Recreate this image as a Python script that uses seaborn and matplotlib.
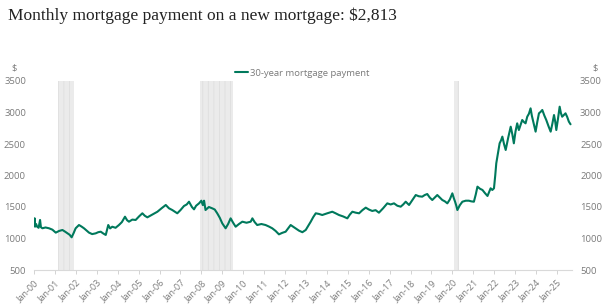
import matplotlib
matplotlib.use("Agg")
import matplotlib.pyplot as plt
import seaborn as sns
import pandas as pd

# ---- data ----
years = [2000.00, 2000.03, 2000.05, 2000.10, 2000.15, 2000.22, 2000.29, 2000.33, 2000.40, 2000.55,
         2000.72, 2000.88, 2001.04, 2001.20, 2001.36, 2001.48, 2001.60, 2001.70, 2001.80, 2001.90,
         2001.99, 2002.15, 2002.27, 2002.39, 2002.50, 2002.63, 2002.78, 2002.95, 2003.07, 2003.19,
         2003.31, 2003.43, 2003.55, 2003.64, 2003.74, 2003.90, 2004.06, 2004.20, 2004.35, 2004.45,
         2004.54, 2004.70, 2004.86, 2005.02, 2005.18, 2005.30, 2005.42, 2005.66, 2005.90, 2006.10,
         2006.30, 2006.45, 2006.61, 2006.85, 2007.00, 2007.17, 2007.30, 2007.41, 2007.55, 2007.65,
         2007.75, 2007.89, 2008.00, 2008.07, 2008.13, 2008.20, 2008.36, 2008.52, 2008.64, 2008.76,
         2008.88, 2009.00, 2009.16, 2009.28, 2009.40, 2009.52, 2009.64, 2009.80, 2009.96, 2010.16,
         2010.36, 2010.44, 2010.55, 2010.67, 2010.87, 2011.07, 2011.23, 2011.39, 2011.55, 2011.71,
         2011.87, 2012.03, 2012.15, 2012.27, 2012.47, 2012.67, 2012.83, 2012.99, 2013.11, 2013.23,
         2013.35, 2013.47, 2013.62, 2013.78, 2014.02, 2014.26, 2014.42, 2014.58, 2014.78, 2014.98,
         2015.10, 2015.22, 2015.38, 2015.54, 2015.70, 2015.86, 2016.01, 2016.17, 2016.33, 2016.49,
         2016.69, 2016.89, 2017.05, 2017.21, 2017.37, 2017.53, 2017.65, 2017.77, 2017.93, 2018.09,
         2018.25, 2018.40, 2018.56, 2018.68, 2018.80, 2018.92, 2019.04, 2019.16, 2019.28, 2019.40,
         2019.52, 2019.64, 2019.76, 2019.88, 2020.00, 2020.07, 2020.13, 2020.19, 2020.24, 2020.36,
         2020.48, 2020.64, 2020.79, 2020.90, 2021.03, 2021.12, 2021.20, 2021.32, 2021.44, 2021.56,
         2021.68, 2021.76, 2021.83, 2021.91, 2021.99, 2022.05, 2022.10, 2022.18, 2022.26, 2022.33,
         2022.39, 2022.47, 2022.55, 2022.67, 2022.79, 2022.87, 2022.94, 2023.02, 2023.10, 2023.18,
         2023.26, 2023.34, 2023.42, 2023.50, 2023.58, 2023.66, 2023.74, 2023.80, 2023.85, 2023.92,
         2023.98, 2024.06, 2024.14, 2024.22, 2024.30, 2024.40, 2024.49, 2024.60, 2024.70, 2024.78,
         2024.86, 2024.92, 2024.97, 2025.05, 2025.13, 2025.19, 2025.25, 2025.33, 2025.41, 2025.49,
         2025.57, 2025.65]
payment = [1214, 1321, 1187, 1230, 1187, 1170, 1294, 1180, 1162, 1175,
           1162, 1140, 1093, 1120, 1135, 1110, 1082, 1060, 1019, 1090,
           1162, 1214, 1190, 1162, 1130, 1093, 1070, 1082, 1100, 1108,
           1080, 1056, 1214, 1160, 1187, 1170, 1214, 1260, 1346, 1290,
           1267, 1300, 1294, 1350, 1400, 1360, 1336, 1380, 1425, 1480,
           1532, 1480, 1452, 1400, 1450, 1516, 1540, 1584, 1500, 1463,
           1520, 1558, 1600, 1530, 1600, 1452, 1500, 1479, 1460, 1400,
           1330, 1241, 1162, 1230, 1320, 1250, 1187, 1230, 1267, 1250,
           1267, 1320, 1260, 1214, 1230, 1214, 1190, 1162, 1120, 1066,
           1090, 1108, 1160, 1214, 1170, 1124, 1100, 1135, 1200, 1267,
           1340, 1400, 1390, 1373, 1400, 1425, 1400, 1373, 1350, 1320,
           1380, 1425, 1410, 1400, 1450, 1490, 1460, 1437, 1450, 1410,
           1480, 1558, 1540, 1558, 1520, 1505, 1540, 1584, 1532, 1610,
           1690, 1670, 1664, 1690, 1706, 1650, 1611, 1650, 1690, 1650,
           1611, 1590, 1558, 1620, 1717, 1640, 1584, 1520, 1452, 1530,
           1584, 1600, 1600, 1590, 1584, 1700, 1823, 1790, 1770, 1720,
           1675, 1740, 1797, 1770, 1797, 2000, 2194, 2350, 2511, 2560,
           2617, 2500, 2405, 2600, 2775, 2650, 2511, 2700, 2828, 2722,
           2800, 2881, 2850, 2828, 2933, 2980, 3066, 2950, 2881, 2780,
           2696, 2850, 2987, 3010, 3040, 2950, 2881, 2780, 2696, 2820,
           2960, 2850, 2722, 2900, 3092, 2990, 2933, 2960, 2987, 2930,
           2855, 2813]
recessions = [(2001.17, 2001.92), (2007.92, 2009.50), (2020.09, 2020.33)]
tick_years = list(range(2000, 2026))
tick_labels = [f"Jan-{y % 100:02d}" for y in tick_years]
series_name = "30-year mortgage payment"
title = "Monthly mortgage payment on a new mortgage: $2,813"

df = pd.DataFrame({"year": years, "payment": payment, "series": series_name})

sns.set_theme(style="white")
plt.rcParams["font.family"] = ["Open Sans", "DejaVu Sans"]
plt.rcParams["hatch.linewidth"] = 0.6

fig = plt.figure(figsize=(6.05, 3.08), dpi=100)
ax = fig.add_axes([34 / 605, 1 - 270 / 308, (572 - 34) / 605, (270 - 81) / 308])

for a, b in recessions:
    ax.axvspan(a, b, facecolor="#ebebeb", edgecolor="#dedede", hatch="|||", lw=0, zorder=0)

green = "#00795c"
sns.lineplot(data=df, x="year", y="payment", hue="series", palette=[green],
             linewidth=1.5, ax=ax, legend=True, zorder=3)

ax.set_xlim(2000, 2025.72)
ax.set_ylim(500, 3500)
ax.set_yticks(range(500, 3501, 500))
ax.set_xticks(tick_years)
ax.set_xticklabels(tick_labels, rotation=45, ha="right", rotation_mode="anchor")
ax.set_xlabel("")
ax.set_ylabel("")

grey = "#7a7a7a"
ax.tick_params(axis="x", colors=grey, labelsize=6.5, length=3, width=0.6, pad=3,
               direction="out", bottom=True, color="#cccccc")
ax.tick_params(axis="y", colors=grey, labelsize=6.8, length=0, pad=5.8)
for s in ["top", "left", "right"]:
    ax.spines[s].set_visible(False)
ax.spines["bottom"].set_color("#d9d9d9")
ax.spines["bottom"].set_linewidth(0.8)

ax2 = ax.twinx()
ax2.set_ylim(500, 3500)
ax2.set_yticks(range(500, 3501, 500))
ax2.tick_params(axis="y", colors=grey, labelsize=6.8, length=0, pad=5.8)
for s in ["top", "left", "right", "bottom"]:
    ax2.spines[s].set_visible(False)
ax2.grid(False)
ax.grid(False)

fig.text(14 / 605, 1 - 68 / 308, "$", color=grey, fontsize=6.8, ha="center", va="center")
fig.text(595 / 605, 1 - 68 / 308, "$", color=grey, fontsize=6.8, ha="center", va="center")

leg = ax.legend(loc="center", bbox_to_anchor=(0.5, 1 - 73 / 308), bbox_transform=fig.transFigure,
                frameon=False, fontsize=6.8, handlelength=1.4, handletextpad=0.2, borderpad=0)
for t in leg.get_texts():
    t.set_color(grey)

fig.text(8 / 605, 1 - 16 / 308, title, family=["Liberation Serif", "DejaVu Serif"],
         fontsize=12.5, color="#222222", ha="left", va="center")

fig.savefig("out.png", dpi=100)
